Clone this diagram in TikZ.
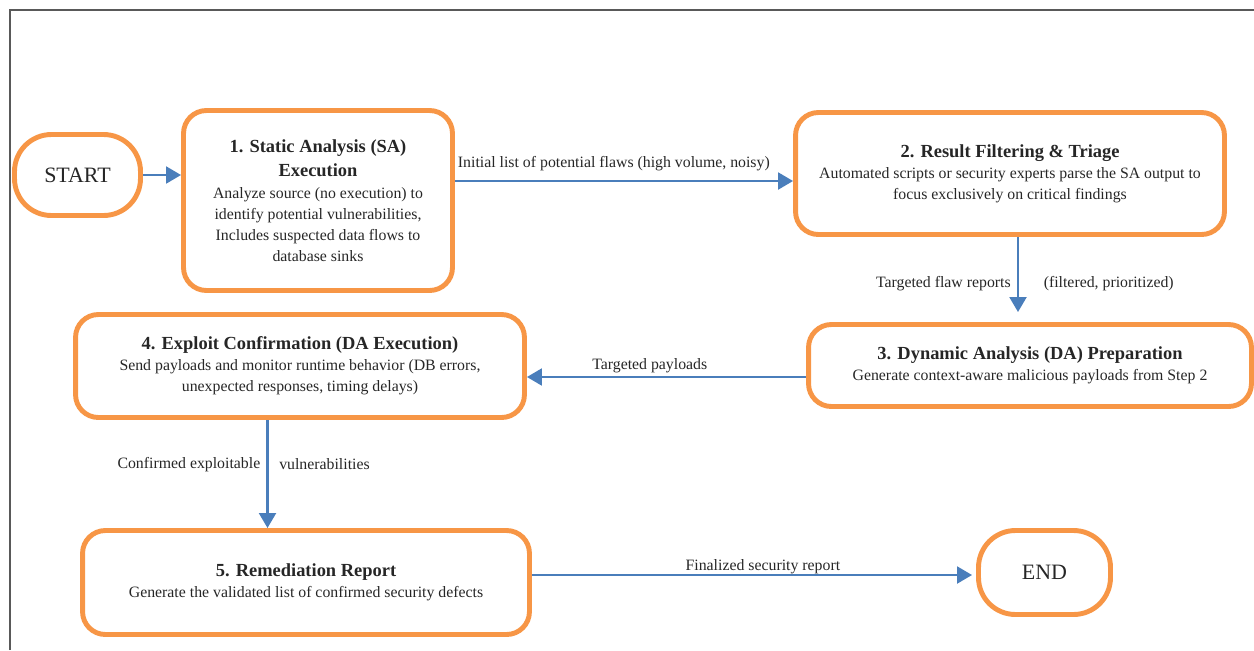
\documentclass[tikz,border=0pt]{standalone}
\usepackage{fontspec}
\setmainfont{Liberation Serif}
\usetikzlibrary{positioning, arrows.meta}
\usepackage{xcolor}

\definecolor{boxorange}{HTML}{F79646}
\definecolor{flowblue}{HTML}{4A7EBB}
\definecolor{framegray}{HTML}{595959}
\newcommand{\boxtitle}[1]{{\fontsize{10.5}{13}\selectfont\bfseries #1}}

\begin{document}
\begin{tikzpicture}[
                  x=0.02cm, y=-0.02cm, % pixel grid
                  every node/.style={font=\fontsize{9}{12}\selectfont, text=black!85},
                  terminal/.style={rectangle, draw=boxorange, line width=2.8pt, rounded corners=21pt, font=\fontsize{12.5}{15}\selectfont},
                  process/.style={rectangle, draw=boxorange, line width=2.8pt, rounded corners=13pt, align=center},
                  arrow/.style={draw=flowblue, line width=1.6pt, -{Triangle[length=8.5pt, width=9.5pt]}}
            ]
            \useasboundingbox (0,0) rectangle (1254,650);

            % Frame
            \draw [framegray, line width=0.6pt] (10,650) -- (10,10) -- (1254,10);

            % Nodes
            \node (start) [terminal, minimum width=2.52cm, minimum height=1.62cm] at (77.5,175) {START};
            \node (analysis) [process, minimum width=5.38cm, minimum height=3.6cm] at (318,200.5)
                  {\boxtitle{1. Static Analysis (SA)}\\[2pt]\boxtitle{Execution}\\Analyze source (no execution) to\\identify potential vulnerabilities,\\Includes suspected data flows to\\database sinks};
            \node (filtering) [process, minimum width=8.58cm, minimum height=2.44cm] at (1010,173.5)
                  {\boxtitle{2. Result Filtering \& Triage}\\Automated scripts or security experts parse the SA output to\\focus exclusively on critical findings};
            \node (preparation) [process, minimum width=8.86cm, minimum height=1.64cm] at (1030,365.5)
                  {\boxtitle{3. Dynamic Analysis (DA) Preparation}\\Generate context-aware malicious payloads from Step 2};
            \node (confirmation) [process, minimum width=8.98cm, minimum height=2.06cm] at (300,366)
                  {\boxtitle{4. Exploit Confirmation (DA Execution)}\\Send payloads and monitor runtime behavior (DB errors,\\unexpected responses, timing delays)};
            \node (report) [process, minimum width=8.94cm, minimum height=2.08cm] at (306,582.5)
                  {\boxtitle{5. Remediation Report}\\Generate the validated list of confirmed security defects};
            \node (stop) [terminal, minimum width=2.64cm, minimum height=1.68cm] at (1044.5,572.5) {END};

            % Arrows
            \draw [arrow] (start) -- (analysis.west |- start);
            \draw [arrow] ([yshift=0.39cm]analysis.east) -- ([yshift=0.39cm]analysis.east -| filtering.west)
                  node[pos=0.47, above, yshift=0.06cm] {Initial list of potential flaws (high volume, noisy)};
            \draw [arrow, shorten >=0.2cm] ([xshift=0.16cm]filtering.south) -- ([xshift=0.16cm]filtering.south |- preparation.north)
                  node[pos=0.55, left] {Targeted flaw reports}
                  node[pos=0.55, right, xshift=0.37cm] {(filtered, prioritized)};
            \draw [arrow] ([yshift=-0.23cm]preparation.west) -- ([yshift=-0.23cm]preparation.west -| confirmation.east)
                  node[pos=0.56, above, yshift=-0.06cm] {Targeted payloads};
            \draw [arrow] ([xshift=-0.65cm]confirmation.south) -- ([xshift=-0.65cm]confirmation.south |- report.north)
                  node[pos=0.41, left] {Confirmed exploitable}
                  node[pos=0.41, right, xshift=0.09cm] {vulnerabilities};
            \draw [arrow, shorten >=0.08cm] ([yshift=-0.05cm]report.east |- stop.west) -- ([yshift=-0.05cm]stop.west)
                  node[pos=0.52, above, yshift=-0.12cm] {Finalized security report};

      \end{tikzpicture}
\end{document}
